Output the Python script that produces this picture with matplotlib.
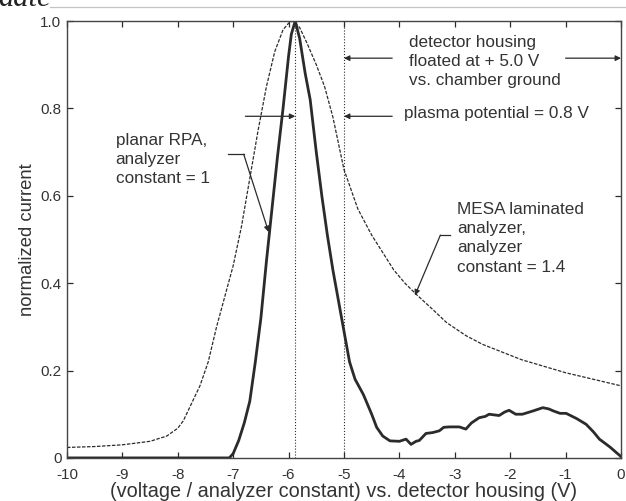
import matplotlib
matplotlib.use("Agg")
import matplotlib.pyplot as plt

plt.rcParams['font.family'] = ['Liberation Sans', 'DejaVu Sans']
plt.rcParams['axes.unicode_minus'] = False

# planar RPA curve (analyzer constant = 1)
rpa_x = [-10, -7.07, -7.0, -6.9, -6.8, -6.7, -6.6, -6.5, -6.4, -6.3, -6.2, -6.1,
         -6.0, -5.95, -5.88, -5.8, -5.7, -5.61, -5.5, -5.4, -5.3, -5.2, -5.1,
         -5.0, -4.9, -4.8, -4.65, -4.5, -4.41, -4.3, -4.17, -4.0, -3.88, -3.79,
         -3.7, -3.64, -3.52, -3.4, -3.28, -3.2, -3.1, -2.92, -2.8, -2.7, -2.56,
         -2.45, -2.38, -2.2, -2.1, -2.02, -1.9, -1.78, -1.6, -1.41, -1.3, -1.23,
         -1.1, -0.99, -0.8, -0.63, -0.5, -0.39, -0.2, 0]
rpa_y = [0, 0, 0.01, 0.04, 0.08, 0.13, 0.22, 0.32, 0.45, 0.57, 0.69, 0.80,
         0.92, 0.97, 1.0, 0.96, 0.88, 0.82, 0.70, 0.60, 0.51, 0.43, 0.36,
         0.29, 0.22, 0.18, 0.145, 0.10, 0.07, 0.05, 0.039, 0.038, 0.043, 0.031,
         0.038, 0.04, 0.056, 0.058, 0.062, 0.07, 0.071, 0.071, 0.066, 0.08, 0.092,
         0.095, 0.1, 0.097, 0.105, 0.109, 0.1, 0.1, 0.107, 0.115, 0.112, 0.108,
         0.102, 0.102, 0.09, 0.077, 0.06, 0.043, 0.025, 0.003]

# MESA laminated analyzer curve (analyzer constant = 1.4)
mesa_x = [-10, -9.5, -9, -8.5, -8.2, -8.0, -7.9, -7.75, -7.6, -7.45, -7.3, -7.15,
          -7.0, -6.85, -6.7, -6.55, -6.4, -6.25, -6.1, -6.0, -5.92, -5.8, -5.67,
          -5.5, -5.35, -5.2, -5.0, -4.75, -4.5, -4.35, -4.1, -3.9, -3.7, -3.4,
          -3.15, -2.8, -2.5, -2.2, -1.8, -1.4, -1.0, -0.5, 0]
mesa_y = [0.024, 0.026, 0.03, 0.038, 0.05, 0.068, 0.085, 0.125, 0.165, 0.22, 0.30, 0.37,
          0.44, 0.53, 0.64, 0.75, 0.85, 0.93, 0.98, 0.995, 1.0, 0.985, 0.95,
          0.90, 0.85, 0.78, 0.66, 0.57, 0.51, 0.48, 0.43, 0.40, 0.375, 0.34,
          0.31, 0.28, 0.26, 0.245, 0.225, 0.21, 0.195, 0.18, 0.165]

peak_v = -5.88
housing_v = -5.0
xticks = [-10, -9, -8, -7, -6, -5, -4, -3, -2, -1, 0]
yticks = [0, 0.2, 0.4, 0.6, 0.8, 1.0]
ytick_labels = ['0', '0.2', '0.4', '0.6', '0.8', '1.0']

ink = '#2b2b2b'
txt = '#333333'

fig = plt.figure(figsize=(6.26, 5.01), dpi=100)
ax = fig.add_axes([0.107, 0.086, 0.885, 0.872])

ax.plot(mesa_x, mesa_y, color=ink, lw=0.9, dashes=(2.8, 1.2))
ax.plot(rpa_x, rpa_y, color=ink, lw=2.0)
ax.axvline(peak_v, color=ink, lw=0.8, ls=':')
ax.axvline(housing_v, color=ink, lw=0.8, ls=':')

ax.set_xlim(-10, 0)
ax.set_ylim(0, 1.0)
ax.set_xticks(xticks)
ax.set_yticks(yticks)
ax.set_yticklabels(ytick_labels)
ax.tick_params(direction='in', top=True, right=True, length=4, width=0.9,
               labelsize=11, colors=ink, labelcolor=txt)
ax.tick_params(axis='x', pad=7)
ax.tick_params(axis='y', pad=4)
for s in ax.spines.values():
    s.set_color('#444444')
    s.set_linewidth(1.0)
ax.set_xlabel("(voltage / analyzer constant) vs. detector housing (V)",
              fontsize=14.3, color=txt, labelpad=0)
ax.set_ylabel("normalized current", fontsize=13.3, color=txt, labelpad=3)

arr = dict(arrowstyle='-|>', color=ink, lw=0.9, mutation_scale=8, shrinkA=0, shrinkB=0)
fs = 12.3
lsp = 1.35

# detector housing annotation
ax.text(-3.83, 0.969, "detector housing\nfloated at + 5.0 V\nvs. chamber ground",
        fontsize=fs, color=txt, va='top', ha='left', linespacing=lsp)
ax.annotate("", xy=(housing_v, 0.915), xytext=(-4.13, 0.915), arrowprops=arr)
ax.annotate("", xy=(0, 0.915), xytext=(-1.0, 0.915), arrowprops=arr)

# plasma potential annotation
ax.text(-3.92, 0.806, "plasma potential = 0.8 V", fontsize=fs, color=txt,
        va='top', ha='left')
ax.annotate("", xy=(housing_v, 0.782), xytext=(-4.13, 0.782), arrowprops=arr)
ax.annotate("", xy=(peak_v, 0.782), xytext=(-6.78, 0.782), arrowprops=arr)

# planar RPA label
ax.text(-9.12, 0.744, "planar RPA,\nanalyzer\nconstant = 1", fontsize=fs,
        color=txt, va='top', ha='left', linespacing=lsp)
ax.plot([-7.09, -6.81], [0.695, 0.695], color=ink, lw=0.9)
ax.annotate("", xy=(-6.36, 0.517), xytext=(-6.81, 0.695), arrowprops=arr)

# MESA label
ax.text(-2.96, 0.586, "MESA laminated\nanalyzer,\nanalyzer\nconstant = 1.4",
        fontsize=fs, color=txt, va='top', ha='left', linespacing=lsp)
ax.plot([-3.08, -3.26], [0.510, 0.510], color=ink, lw=0.9)
ax.annotate("", xy=(-3.72, 0.372), xytext=(-3.26, 0.510), arrowprops=arr)

# scan remnants at the top edge
fig.text(-0.003, 1 - 6.5 / 501, "date", fontsize=22, style='italic',
         family='Liberation Serif', color='#222222', va='baseline', ha='left')
fig.add_artist(plt.Line2D([50 / 626, 1.0], [1 - 7.3 / 501] * 2, color='#c4c4c4', lw=0.9))

fig.savefig("out.png", dpi=100)
